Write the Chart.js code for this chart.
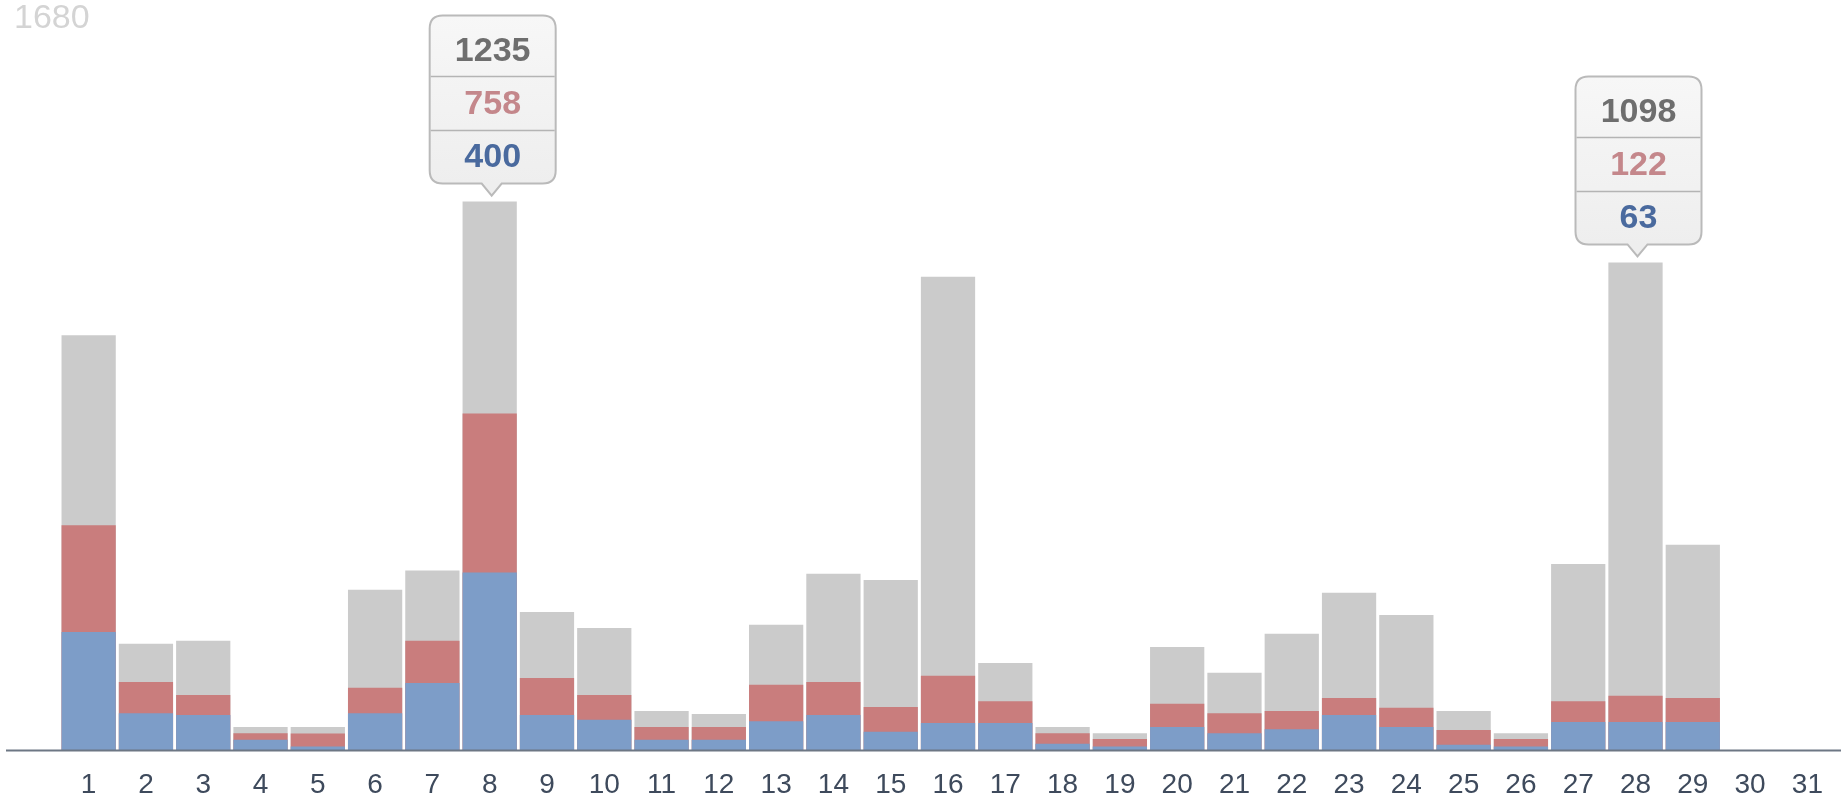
<!DOCTYPE html>
<html>
<head>
<meta charset="utf-8">
<script src="https://cdn.jsdelivr.net/npm/chart.js@4/dist/chart.umd.min.js"></script>
<style>
  html, body { margin: 0; padding: 0; background: #ffffff; overflow: hidden; }
  #wrap { position: relative; width: 1841px; height: 802px; }
</style>
</head>
<body>
<div id="wrap"><canvas id="c" width="1841" height="802"></canvas></div>
<script>
// Day of month along the x axis
const days = ['1','2','3','4','5','6','7','8','9','10','11','12','13','14','15','16',
              '17','18','19','20','21','22','23','24','25','26','27','28','29','30','31'];

// Daily figures, drawn overlapped from the same baseline (largest at the back)
const views  = [934, 239, 246, 52, 52, 361, 404, 1235, 311, 275, 88, 81, 282, 397, 383, 1066,
                196, 52, 38, 232, 174, 262, 354, 304, 88, 38, 419, 1098, 462, null, null];
const clicks = [506, 153, 124, 38, 37, 140, 246, 758, 162, 124, 52, 52, 147, 153, 97, 167,
                110, 38, 25, 104, 83, 88, 117, 95, 45, 25, 110, 122, 117, null, null];
const orders = [266, 83, 79, 23, 8, 83, 151, 400, 79, 68, 23, 23, 65, 79, 41, 61,
                61, 14, 8, 52, 38, 47, 79, 52, 12, 8, 63, 63, 63, null, null];

// Top of the value axis, printed in the corner
const axisMax = 1680;

// Days that carry a value callout
const calloutDays = ['8', '28'];

const COLORS = {
  views:  '#cbcbcb',
  clicks: '#c97d7d',
  orders: '#7d9dc8',
  textViews:  '#6e6e6e',
  textClicks: '#c4878b',
  textOrders: '#4a6a9e'
};

// Base line under the bars, running the full width of the canvas
const baseLine = {
  id: 'baseLine',
  afterDatasetsDraw(chart) {
    const ctx = chart.ctx;
    const y = Math.round(chart.scales.y.getPixelForValue(0)) + 0.5;
    ctx.save();
    ctx.strokeStyle = '#6d7784';
    ctx.lineWidth = 2;
    ctx.beginPath();
    ctx.moveTo(6, y);
    ctx.lineTo(chart.width, y);
    ctx.stroke();
    ctx.restore();
  }
};

// Faint maximum label in the top-left corner
const maxLabel = {
  id: 'maxLabel',
  afterDraw(chart) {
    const ctx = chart.ctx;
    ctx.save();
    ctx.font = '34px "Liberation Sans", Arial, sans-serif';
    ctx.fillStyle = '#d4d4d4';
    ctx.textBaseline = 'top';
    ctx.textAlign = 'left';
    ctx.fillText(String(axisMax), 14, chart.scales.y.getPixelForValue(axisMax) - 2);
    ctx.restore();
  }
};

function roundRectPath(ctx, x, y, w, h, r, tipX, tipH, tipW) {
  ctx.beginPath();
  ctx.moveTo(x + r, y);
  ctx.lineTo(x + w - r, y);
  ctx.quadraticCurveTo(x + w, y, x + w, y + r);
  ctx.lineTo(x + w, y + h - r);
  ctx.quadraticCurveTo(x + w, y + h, x + w - r, y + h);
  ctx.lineTo(tipX + tipW, y + h);
  ctx.lineTo(tipX, y + h + tipH);
  ctx.lineTo(tipX - tipW, y + h);
  ctx.lineTo(x + r, y + h);
  ctx.quadraticCurveTo(x, y + h, x, y + h - r);
  ctx.lineTo(x, y + r);
  ctx.quadraticCurveTo(x, y, x + r, y);
  ctx.closePath();
}

// Value callouts above selected days
const callouts = {
  id: 'callouts',
  afterDraw(chart) {
    const ctx = chart.ctx;
    const xs = chart.scales.x, ys = chart.scales.y;
    const W = 126, H = 168;
    calloutDays.forEach(day => {
      const i = days.indexOf(day);
      const cx = xs.getPixelForValue(i) + 3;
      const barTop = ys.getPixelForValue(views[i]);
      const bottom = barTop - 18;
      const top = bottom - H;
      const left = cx - W / 2;

      ctx.save();
      const g = ctx.createLinearGradient(0, top, 0, bottom);
      g.addColorStop(0, '#f7f7f7');
      g.addColorStop(1, '#eeeeee');
      roundRectPath(ctx, left, top, W, H, 13, cx - 1, 12, 10);
      ctx.fillStyle = g;
      ctx.fill();
      ctx.strokeStyle = '#bababa';
      ctx.lineWidth = 2;
      ctx.stroke();

      ctx.strokeStyle = '#b4b4b4';
      ctx.lineWidth = 1.5;
      [61, 115].forEach(dy => {
        ctx.beginPath();
        ctx.moveTo(left + 1, top + dy);
        ctx.lineTo(left + W - 1, top + dy);
        ctx.stroke();
      });

      ctx.font = 'bold 34px "Liberation Sans", Arial, sans-serif';
      ctx.textAlign = 'center';
      ctx.textBaseline = 'middle';
      const rows = [
        [views[i],  COLORS.textViews,  36],
        [clicks[i], COLORS.textClicks, 89],
        [orders[i], COLORS.textOrders, 142]
      ];
      rows.forEach(([v, col, dy]) => {
        ctx.fillStyle = col;
        ctx.fillText(String(v), cx, top + dy);
      });
      ctx.restore();
    });
  }
};

new Chart(document.getElementById('c'), {
  type: 'bar',
  data: {
    labels: days,
    datasets: [
      { label: 'orders', data: orders, backgroundColor: COLORS.orders },
      { label: 'clicks', data: clicks, backgroundColor: COLORS.clicks },
      { label: 'views',  data: views,  backgroundColor: COLORS.views }
    ]
  },
  options: {
    responsive: false,
    animation: false,
    layout: { padding: { left: 60, right: 3, top: 4, bottom: 0 } },
    datasets: {
      bar: { grouped: false, categoryPercentage: 1, barPercentage: 0.947, borderWidth: 0 }
    },
    plugins: {
      legend: { display: false },
      tooltip: { enabled: false }
    },
    scales: {
      x: {
        grid: { display: false, drawTicks: false },
        border: { display: false },
        ticks: {
          autoSkip: false,
          maxRotation: 0,
          padding: 18,
          color: '#3e4a5c',
          font: { family: '"Liberation Sans", Arial, sans-serif', size: 28 }
        },
        afterFit(scale) { scale.height = 52; }
      },
      y: { display: false, min: 0, max: axisMax }
    }
  },
  plugins: [baseLine, maxLabel, callouts]
});
</script>
</body>
</html>
